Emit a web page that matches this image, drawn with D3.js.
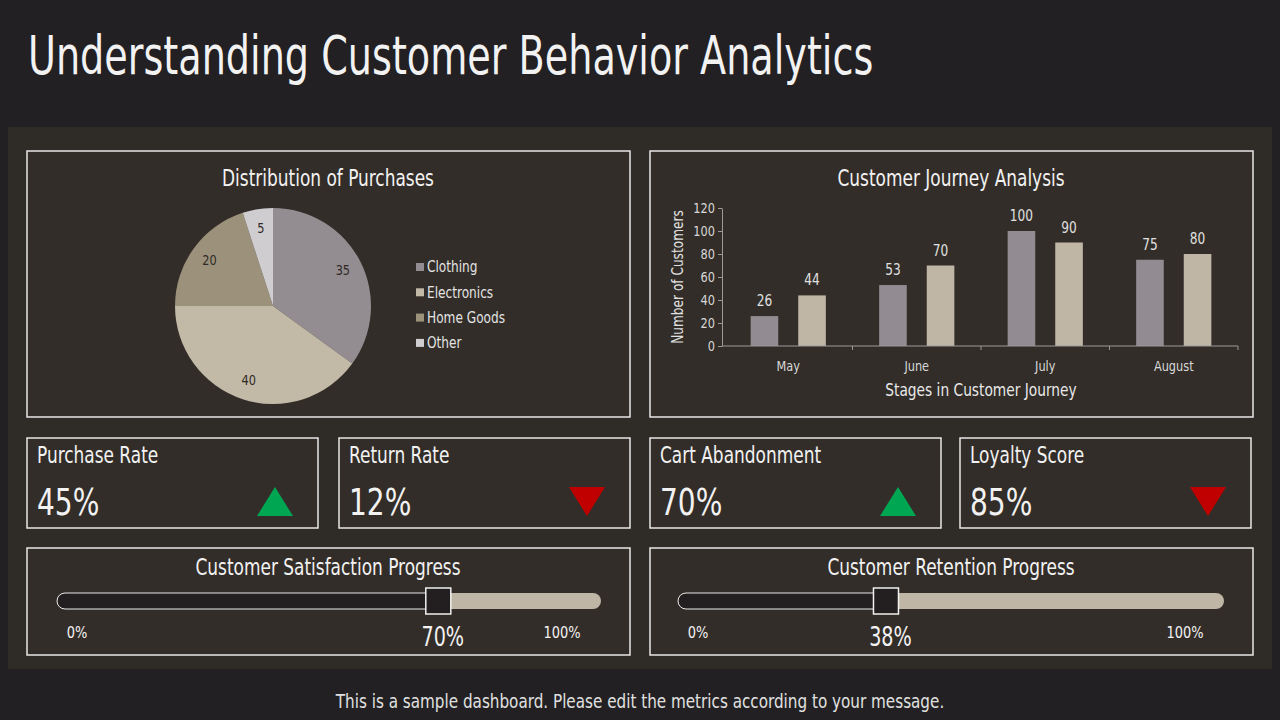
<!DOCTYPE html>
<html lang="en">
<head>
<meta charset="UTF-8" />
<title>Understanding Customer Behavior Analytics</title>
<script src="https://d3js.org/d3.v7.min.js"></script>
<style>
    body { margin: 0; background: #222022; }
    svg text { font-family: "DejaVu Sans Condensed", "DejaVu Sans", sans-serif; fill: #f2f2f2; }
    .card { fill: #322d28; stroke: #e8e8e8; stroke-width: 1.5; }
    .axis path, .axis line { stroke: #9a9a9a; }
    .axis text { fill: #d8d8d8; font-size: 13px; }
</style>
</head>
<body>
<div id="chart"></div>
<script>
// pie data
var pieCategories = ["Clothing", "Electronics", "Home Goods", "Other"];
var pieValues = [35, 40, 20, 5];

// bar data
var months = ["May", "June", "July", "August"];
var seriesA = [26, 53, 100, 75];
var seriesB = [44, 70, 90, 80];
var yTicks = [0, 20, 40, 60, 80, 100, 120];

// KPI cards
var kpiNames = ["Purchase Rate", "Return Rate", "Cart Abandonment", "Loyalty Score"];
var kpiValues = [45, 12, 70, 85];
var kpiTrend = ["up", "down", "up", "down"];

// progress bars
var progressNames = ["Customer Satisfaction Progress", "Customer Retention Progress"];
var progressValues = [70, 38];

var w = 1280, h = 720;
var svg = d3.select("#chart").append("svg").attr("width", w).attr("height", h);

svg.append("rect").attr("width", w).attr("height", h).attr("fill", "#222022");
var title = svg.append("text").attr("x", 28).attr("y", 74)
    .style("font-size", "53px").text("Understanding Customer Behavior Analytics");
svg.append("rect").attr("x", 8).attr("y", 127).attr("width", 1264).attr("height", 542).attr("fill", "#2f2b26");

function card(x, y, cw, ch) {
    svg.append("rect").attr("class", "card").attr("x", x).attr("y", y).attr("width", cw).attr("height", ch);
}

// ---- pie ----
card(27, 151, 603, 266);
svg.append("text").attr("x", 328).attr("y", 186).attr("text-anchor", "middle")
    .style("font-size", "23px").text("Distribution of Purchases");

var pieColors = d3.scaleOrdinal().domain(pieCategories).range(["#938c91", "#c2b9a7", "#9c927b", "#d0cdd0"]);
var radius = 98;
var pie = d3.pie().sort(null).value(function(d) { return d.v; });
var pieData = pie(pieCategories.map(function(c, i) { return { c: c, v: pieValues[i] }; }));
var arc = d3.arc().innerRadius(0).outerRadius(radius);
var labelArc = d3.arc().innerRadius(radius * 0.8).outerRadius(radius * 0.8);
var pg = svg.append("g").attr("transform", "translate(273,306)");
pg.selectAll("path").data(pieData).enter().append("path")
    .attr("d", arc).attr("fill", function(d) { return pieColors(d.data.c); });
pg.selectAll("text").data(pieData).enter().append("text")
    .attr("transform", function(d) { return "translate(" + labelArc.centroid(d) + ")"; })
    .attr("text-anchor", "middle").attr("dy", "0.35em")
    .style("font-size", "14px").style("fill", "#2e2a26")
    .text(function(d) { return d.data.v; });

var legend = svg.append("g").attr("transform", "translate(416,267)");
var lg = legend.selectAll("g").data(pieCategories).enter().append("g")
    .attr("transform", function(d, i) { return "translate(0," + i * 25.3 + ")"; });
lg.append("rect").attr("x", 0).attr("y", -4).attr("width", 8).attr("height", 8)
    .attr("fill", function(d) { return pieColors(d); });
lg.append("text").attr("x", 11).attr("dy", "0.35em").style("font-size", "15px").style("fill", "#e4e4e4")
    .text(function(d) { return d; });

// ---- bar chart ----
card(650, 151, 603, 266);
svg.append("text").attr("x", 951).attr("y", 186).attr("text-anchor", "middle")
    .style("font-size", "23px").text("Customer Journey Analysis");

var xScale = d3.scaleBand().domain(months).range([724, 1238]).padding(0);
var xSub = d3.scaleBand().domain(["a", "b"]).range([0, xScale.bandwidth()])
    .paddingInner(0.42).paddingOuter(0.56);
var yScale = d3.scaleLinear().domain([0, 120]).range([346, 208]);

var bg = svg.append("g");
var barData = [];
months.forEach(function(m, i) {
    barData.push({ m: m, s: "a", v: seriesA[i] });
    barData.push({ m: m, s: "b", v: seriesB[i] });
});
bg.selectAll("rect").data(barData).enter().append("rect")
    .attr("x", function(d) { return xScale(d.m) + xSub(d.s); })
    .attr("y", function(d) { return yScale(d.v); })
    .attr("width", xSub.bandwidth())
    .attr("height", function(d) { return yScale(0) - yScale(d.v); })
    .attr("fill", function(d) { return d.s === "a" ? "#928b91" : "#c0b6a5"; });
bg.selectAll("text").data(barData).enter().append("text")
    .attr("x", function(d) { return xScale(d.m) + xSub(d.s) + xSub.bandwidth() / 2; })
    .attr("y", function(d) { return yScale(d.v) - 10; })
    .attr("text-anchor", "middle").style("font-size", "15px").style("fill", "#e0e0e0")
    .text(function(d) { return d.v; });

svg.append("g").attr("class", "axis").attr("transform", "translate(722,0)")
    .call(d3.axisLeft(yScale).tickValues(yTicks).tickSize(4).tickSizeOuter(0))
    .selectAll("text").style("font-size", "14px");
// x axis with ticks on band boundaries
var xAxisG = svg.append("g").attr("class", "axis").attr("transform", "translate(0,346)");
xAxisG.append("line").attr("x1", 722).attr("x2", 1238).attr("stroke", "#9a9a9a");
xAxisG.selectAll("line.tk").data(months.concat(["end"])).enter().append("line").attr("class", "tk")
    .attr("x1", function(d, i) { return i < months.length ? xScale(d) : xScale.range()[1]; })
    .attr("x2", function(d, i) { return i < months.length ? xScale(d) : xScale.range()[1]; })
    .attr("y1", 0).attr("y2", 4).attr("stroke", "#9a9a9a")
    .style("display", function(d, i) { return i === 0 ? "none" : null; });
xAxisG.selectAll("text").data(months).enter().append("text")
    .attr("x", function(d) { return xScale(d) + xScale.bandwidth() / 2; })
    .attr("y", 20).attr("dy", "0.35em").attr("text-anchor", "middle")
    .style("font-size", "14px").text(function(d) { return d; });

svg.append("text").attr("transform", "translate(683,277) rotate(-90)").attr("text-anchor", "middle")
    .style("font-size", "15px").style("fill", "#e0e0e0").text("Number of Customers");
svg.append("text").attr("x", 981).attr("y", 396).attr("text-anchor", "middle")
    .style("font-size", "17px").style("fill", "#e8e8e8").text("Stages in Customer Journey");

// ---- KPI cards ----
var kpiX = [27, 339, 650, 960];
var kpiW = 291;
kpiNames.forEach(function(name, i) {
    var x = kpiX[i];
    card(x, 438, kpiW, 90);
    svg.append("text").attr("x", x + 10).attr("y", 463).style("font-size", "23px").text(name);
    svg.append("text").attr("x", x + 10).attr("y", 515).style("font-size", "38px").text(kpiValues[i] + "%");
    var cx = x + 248, top = 487, bot = 516, hw = 18;
    var pts = kpiTrend[i] === "up"
        ? [[cx, top], [cx + hw, bot], [cx - hw, bot]]
        : [[cx - hw, top], [cx + hw, top], [cx, bot]];
    svg.append("path").attr("d", d3.line()(pts) + "Z")
        .attr("fill", kpiTrend[i] === "up" ? "#00a651" : "#c00000");
});

// ---- progress bars ----
var progX = [27, 650];
var trackRange = [[57, 601], [678, 1224]];
progressNames.forEach(function(name, i) {
    var x = progX[i];
    card(x, 548, 603, 107);
    svg.append("text").attr("x", x + 301).attr("y", 575).attr("text-anchor", "middle")
        .style("font-size", "23px").text(name);
    var ps = d3.scaleLinear().domain([0, 100]).range(trackRange[i]);
    var ty = 593, th = 16;
    svg.append("rect").attr("x", ps(0)).attr("y", ty).attr("width", ps(100) - ps(0)).attr("height", th)
        .attr("rx", 8).attr("fill", "#c0b6a5");
    svg.append("rect").attr("x", ps(0)).attr("y", ty).attr("width", ps(progressValues[i]) - ps(0) + 8).attr("height", th)
        .attr("rx", 8).attr("fill", "#231f20").attr("stroke", "#e8e8e8").attr("stroke-width", 1);
    svg.append("rect").attr("x", ps(progressValues[i]) - 12).attr("y", 588).attr("width", 25).attr("height", 26)
        .attr("fill", "#231f20").attr("stroke", "#f0f0f0").attr("stroke-width", 1.5);
    svg.append("text").attr("x", ps(0) + 20).attr("y", 638).attr("text-anchor", "middle")
        .style("font-size", "16px").text("0%");
    svg.append("text").attr("x", ps(100) - 39).attr("y", 638).attr("text-anchor", "middle")
        .style("font-size", "16px").text("100%");
    svg.append("text").attr("x", ps(progressValues[i]) + 5).attr("y", 646).attr("text-anchor", "middle")
        .style("font-size", "26px").text(progressValues[i] + "%");
});

var footer = svg.append("text").attr("x", 640).attr("y", 708).attr("text-anchor", "middle")
    .style("font-size", "20px").style("fill", "#e0e0e0")
    .text("This is a sample dashboard. Please edit the metrics according to your message.");

// the reference uses a narrow typeface: squeeze every label horizontally
svg.selectAll("text").each(function() {
    var size = parseFloat(getComputedStyle(this).fontSize);
    var k = size >= 22 ? 0.82 : 0.9;
    if (this === title.node()) k = 0.8;
    if (this === footer.node()) k = 0.845;
    var len = this.getComputedTextLength();
    d3.select(this).attr("textLength", len * k).attr("lengthAdjust", "spacingAndGlyphs");
});
</script>
</body>
</html>
